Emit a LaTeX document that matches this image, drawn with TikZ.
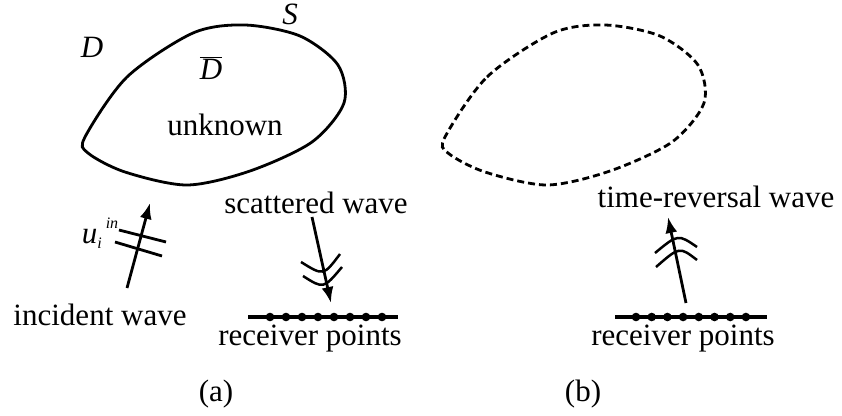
\documentclass[tikz,border=0pt]{standalone}
\usepackage{fontspec}
\setmainfont{Liberation Serif}
\usetikzlibrary{arrows.meta}

\begin{document}
\begin{tikzpicture}[x=1pt,y=-1pt,font=\fontsize{31}{37}\selectfont,line width=2.8pt,>={Latex[length=16pt,width=12pt]}]
\tikzstyle{lbl}=[anchor=base,inner sep=0pt]
\tikzstyle{rcv}=[line width=4pt]
\tikzstyle{wv}=[line width=2.5pt]
\newcommand{\smallit}[1]{{\fontsize{16}{16}\selectfont\textit{#1}}}
\useasboundingbox (0,0) rectangle (842,415);
% (a) scatterer
\draw plot[smooth cycle] coordinates {(85,137) (127,77) (193,33) (245,25) (300,36) (338,65) (344,103) (312,142) (250,171) (187,185) (125,172) (88,153)};
\node[lbl] (D) at (92,57) {\textit{D}};
\node[lbl] (Dbar) at (211,79) {$\overline{\textit{D}}$};
\node[lbl] (S) at (290,24) {\textit{S}};
\node[lbl] (unk) at (225,135) {unknown};
% incident wave
\coordinate (incS) at (127,288);
\coordinate (incE) at (150,203);
\draw[->] (incS) -- (incE);
\draw (119,230) -- (166,242);
\draw (115,242) -- (162,256);
\node[lbl] (uin) at (100,243) {\textit{u}\raisebox{-5pt}{\smallit{i}}\kern4pt\raisebox{15pt}{\smallit{in}}};
\node[lbl] (inc) at (100,325) {incident wave};
% scattered wave
\node[lbl] (scat) at (316,213) {scattered wave};
\coordinate (scS) at (312,217);
\coordinate (scE) at (331,303);
\draw[->] (scS) -- (scE);
\draw[wv] (301,262) .. controls (323.5,276) .. (340,254);
\draw[wv] (303,276) .. controls (323.5,289) .. (342,267);
% receivers (a)
\coordinate (ra1) at (248,317);
\coordinate (ra2) at (398,317);
\draw[rcv] (ra1) -- (ra2);
\foreach \i in {0,...,7} \fill (270+16*\i,317) circle (4.3pt);
\node[lbl] (recA) at (310,345) {receiver points};
\node[lbl] (capA) at (216,401) {(a)};

% (b) reconstructed
\begin{scope}[xshift=360]
\draw[dash pattern=on 7pt off 4pt] plot[smooth cycle] coordinates {(85,137) (127,77) (193,33) (245,25) (300,36) (338,65) (344,103) (312,142) (250,171) (187,185) (125,172) (88,153)};
\end{scope}
\node[lbl] (trw) at (716,207) {time-reversal wave};
\coordinate (trS) at (686,303);
\coordinate (trE) at (668,217);
\draw[->] (trS) -- (trE);
\draw[wv] (655,253) .. controls (678,234) .. (697,247);
\draw[wv] (656,267) .. controls (679.5,246.5) .. (697,260);
% receivers (b)
\coordinate (rb1) at (615,317);
\coordinate (rb2) at (767,317);
\draw[rcv] (rb1) -- (rb2);
\foreach \i in {0,...,7} \fill (636+15.7*\i,317) circle (4.3pt);
\node[lbl] (recB) at (683,345) {receiver points};
\node[lbl] (capB) at (583,401) {(b)};
\end{tikzpicture}
\end{document}
